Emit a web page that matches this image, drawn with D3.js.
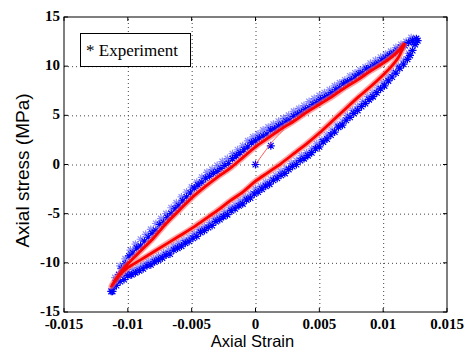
<!DOCTYPE html>
<html>
<head>
<meta charset="utf-8">
<script src="https://cdn.jsdelivr.net/npm/d3@7"></script>
<style>
  body { margin: 0; background: #fff; }
  svg { display: block; }
  .tick-label { font-family: "Liberation Serif", "Times New Roman", serif; font-weight: bold; font-size: 15px; fill: #000; }
  .axis-title { font-family: "Liberation Sans", Arial, sans-serif; font-size: 16.5px; fill: #000; }
</style>
</head>
<body>
<svg id="chart" width="469" height="355"></svg>
<script>
// axis ticks
const xTicks = [-0.015, -0.01, -0.005, 0, 0.005, 0.01, 0.015];
const xTickLabels = ['-0.015', '-0.01', '-0.005', '0', '0.005', '0.01', '0.015'];
const yTicks = [-15, -10, -5, 0, 5, 10, 15];
const yTickLabels = ['-15', '-10', '-5', '0', '5', '10', '15'];

// experiment, loading branch, first pass (strain, stress MPa)
const expUpperStrain = [-0.0113, -0.0111, -0.0109, -0.0107, -0.0105, -0.0102, -0.0099, -0.0096, -0.0093, -0.0090,
  -0.0087, -0.0084, -0.0081, -0.0078, -0.0075, -0.0072, -0.0069, -0.0066, -0.0063, -0.0060,
  -0.0057, -0.0054, -0.0051, -0.0048, -0.0045, -0.0042, -0.0039, -0.0036, -0.0033, -0.0030,
  -0.0027, -0.0024, -0.0021, -0.0018, -0.0015, -0.0012, -0.0009, -0.0006, -0.0003, 0.0000,
  0.0003, 0.0006, 0.0009, 0.0012, 0.0015, 0.0018, 0.0021, 0.0024, 0.0027, 0.0030,
  0.0033, 0.0036, 0.0039, 0.0042, 0.0045, 0.0048, 0.0051, 0.0054, 0.0057, 0.0060,
  0.0063, 0.0066, 0.0069, 0.0072, 0.0075, 0.0078, 0.0081, 0.0084, 0.0087, 0.0090,
  0.0093, 0.0096, 0.0099, 0.0102, 0.0105, 0.0108, 0.0111, 0.0114, 0.0117, 0.0120,
  0.0123, 0.0126];
const expUpperStress = [-12.9, -12.4, -11.8, -11.2, -10.6, -10.1, -9.3, -9.0, -8.5, -8.3,
  -7.8, -7.4, -7.0, -6.7, -6.1, -5.9, -5.4, -5.0, -4.5, -4.2,
  -3.7, -3.3, -2.9, -2.4, -2.1, -1.8, -1.4, -1.2, -0.9, -0.7,
  -0.4, -0.1, 0.1, 0.6, 0.9, 1.2, 1.5, 1.8, 2.2, 2.4,
  2.7, 2.9, 3.1, 3.5, 3.6, 3.9, 4.1, 4.4, 4.5, 4.9,
  5.1, 5.3, 5.6, 5.8, 6.1, 6.3, 6.6, 6.8, 7.0, 7.3,
  7.6, 7.8, 8.2, 8.4, 8.6, 8.9, 9.2, 9.3, 9.7, 9.8,
  10.1, 10.3, 10.6, 10.8, 11.1, 11.3, 11.6, 11.9, 12.1, 12.4,
  12.6, 12.8];

// experiment, unloading branch, first pass (+ start points at the end)
const expLowerStrain = [0.0127, 0.0125, 0.0123, 0.0121, 0.0119, 0.0116, 0.0113, 0.0110, 0.0107, 0.0104,
  0.0101, 0.0098, 0.0095, 0.0092, 0.0089, 0.0086, 0.0083, 0.0080, 0.0077, 0.0074,
  0.0071, 0.0068, 0.0065, 0.0062, 0.0059, 0.0056, 0.0053, 0.0050, 0.0047, 0.0044,
  0.0041, 0.0038, 0.0035, 0.0032, 0.0029, 0.0026, 0.0023, 0.0020, 0.0017, 0.0014,
  0.0011, 0.0008, 0.0005, 0.0002, -0.0001, -0.0004, -0.0007, -0.0010, -0.0013, -0.0016,
  -0.0019, -0.0022, -0.0025, -0.0028, -0.0031, -0.0034, -0.0037, -0.0040, -0.0043, -0.0046,
  -0.0049, -0.0052, -0.0055, -0.0058, -0.0061, -0.0064, -0.0067, -0.0070, -0.0073, -0.0076,
  -0.0079, -0.0082, -0.0085, -0.0088, -0.0091, -0.0094, -0.0097, -0.0100, -0.0103, -0.0106,
  -0.0109, -0.0112, 0.0000, 0.0012];
const expLowerStress = [12.6, 12.2, 11.6, 11.1, 10.7, 10.2, 9.8, 9.3, 8.9, 8.5,
  8.0, 7.7, 7.3, 6.9, 6.6, 6.2, 5.9, 5.5, 5.2, 4.8,
  4.5, 4.0, 3.8, 3.3, 3.0, 2.6, 2.3, 1.8, 1.6, 1.2,
  0.9, 0.6, 0.4, 0.0, -0.2, -0.5, -0.9, -1.1, -1.4, -1.6,
  -2.0, -2.2, -2.5, -2.8, -3.0, -3.4, -3.6, -4.0, -4.2, -4.5,
  -4.7, -5.1, -5.3, -5.6, -5.8, -6.2, -6.4, -6.7, -6.9, -7.3,
  -7.5, -7.8, -8.0, -8.3, -8.5, -8.7, -9.1, -9.2, -9.5, -9.7,
  -9.9, -10.2, -10.3, -10.6, -10.8, -11.0, -11.2, -11.3, -11.7, -11.9,
  -12.3, -12.9, 0.0, 1.9];

// experiment, later passes (lighter, fill out the bands)
const expUpper2Strain = [-0.0110, -0.0106, -0.0102, -0.0098, -0.0094, -0.0090, -0.0086, -0.0082, -0.0078, -0.0074,
  -0.0070, -0.0066, -0.0062, -0.0058, -0.0054, -0.0050, -0.0046, -0.0042, -0.0038, -0.0034,
  -0.0030, -0.0026, -0.0022, -0.0018, -0.0014, -0.0010, -0.0006, -0.0002, 0.0002, 0.0006,
  0.0010, 0.0014, 0.0018, 0.0022, 0.0026, 0.0030, 0.0034, 0.0038, 0.0042, 0.0046,
  0.0050, 0.0054, 0.0058, 0.0062, 0.0066, 0.0070, 0.0074, 0.0078, 0.0082, 0.0086,
  0.0090, 0.0094, 0.0098, 0.0102, 0.0106, 0.0110, 0.0114, 0.0118, 0.0122];
const expUpper2Stress = [-11.5, -10.3, -9.6, -8.7, -8.1, -7.6, -7.1, -6.6, -6.0, -5.5,
  -5.0, -4.4, -3.9, -3.3, -2.8, -2.3, -1.8, -1.3, -0.8, -0.5,
  -0.1, 0.3, 0.6, 1.1, 1.5, 1.9, 2.4, 2.8, 3.1, 3.5,
  3.8, 4.1, 4.4, 4.7, 5.0, 5.4, 5.7, 6.0, 6.4, 6.7,
  7.0, 7.3, 7.6, 8.0, 8.3, 8.6, 9.0, 9.3, 9.6, 9.9,
  10.3, 10.6, 10.9, 11.2, 11.5, 11.9, 12.2, 12.5, 12.9];
const expLower2Strain = [0.0124, 0.0120, 0.0116, 0.0112, 0.0108, 0.0104, 0.0100, 0.0096, 0.0092, 0.0088,
  0.0084, 0.0080, 0.0076, 0.0072, 0.0068, 0.0064, 0.0060, 0.0056, 0.0052, 0.0048,
  0.0044, 0.0040, 0.0036, 0.0032, 0.0028, 0.0024, 0.0020, 0.0016, 0.0012, 0.0008,
  0.0004, 0.0000, -0.0004, -0.0008, -0.0012, -0.0016, -0.0020, -0.0024, -0.0028, -0.0032,
  -0.0036, -0.0040, -0.0044, -0.0048, -0.0052, -0.0056, -0.0060, -0.0064, -0.0068, -0.0072,
  -0.0076, -0.0080, -0.0084, -0.0088, -0.0092, -0.0096, -0.0100, -0.0104, -0.0108];
const expLower2Stress = [12.3, 11.3, 10.6, 10.0, 9.4, 8.9, 8.3, 7.8, 7.3, 6.9,
  6.4, 5.9, 5.5, 5.0, 4.4, 4.0, 3.5, 3.0, 2.5, 2.1,
  1.6, 1.2, 0.9, 0.4, 0.1, -0.4, -0.7, -1.1, -1.5, -1.8,
  -2.2, -2.5, -3.0, -3.3, -3.7, -4.1, -4.4, -4.8, -5.2, -5.5,
  -5.9, -6.3, -6.6, -7.0, -7.4, -7.7, -8.0, -8.3, -8.7, -9.0,
  -9.3, -9.6, -9.9, -10.2, -10.5, -10.7, -10.9, -11.2, -11.7];

// model: initial loading, then the closed loop
const modelStartStrain = [0.0000, 0.0014, 0.0022];
const modelStartStress = [0.0, 2.45, 3.5];
const modelStrain = [0.0117, 0.0112, 0.0106, 0.0100, 0.0090, 0.0080, 0.0070, 0.0060, 0.0050, 0.0040,
  0.0030, 0.0020, 0.0010, 0.0000, -0.0010, -0.0020, -0.0030, -0.0040, -0.0050, -0.0060,
  -0.0070, -0.0080, -0.0090, -0.0100, -0.0106, -0.0113,
  -0.0108, -0.0104, -0.0100, -0.0090, -0.0080, -0.0070, -0.0060, -0.0050, -0.0040, -0.0030,
  -0.0020, -0.0010, 0.0000, 0.0010, 0.0020, 0.0030, 0.0040, 0.0050, 0.0060, 0.0070,
  0.0080, 0.0090, 0.0100, 0.0110, 0.0117];
const modelStress = [12.35, 10.9, 9.9, 9.1, 7.9, 6.8, 5.6, 4.4, 3.2, 2.1,
  1.1, 0.1, -0.8, -1.7, -2.8, -3.7, -4.7, -5.6, -6.5, -7.3,
  -8.1, -8.9, -9.7, -10.5, -11.2, -12.4,
  -11.4, -10.7, -10.1, -8.8, -7.5, -6.0, -4.7, -3.4, -2.3, -1.3,
  -0.4, 0.7, 1.8, 2.7, 3.6, 4.4, 5.3, 6.1, 6.9, 7.8,
  8.6, 9.5, 10.3, 11.3, 12.35];

const legendText = '* Experiment';

const margin = {left: 64, top: 17, right: 22, bottom: 43};
const width = 469, height = 355;
const svg = d3.select('#chart');

const x = d3.scaleLinear().domain([-0.015, 0.015]).range([margin.left, width - margin.right]);
const y = d3.scaleLinear().domain([-15, 15]).range([height - margin.bottom, margin.top]);

const plotW = x.range()[1] - x.range()[0];
const plotH = y.range()[0] - y.range()[1];

// dotted grid
svg.append('g')
  .attr('transform', 'translate(0,' + y(-15) + ')')
  .call(d3.axisBottom(x).tickValues(xTicks.slice(1, -1)).tickSize(-plotH).tickFormat(''))
  .call(g => g.select('.domain').remove())
  .selectAll('line').attr('stroke', '#444').attr('stroke-dasharray', '1,3');
svg.append('g')
  .attr('transform', 'translate(' + x(-0.015) + ',0)')
  .call(d3.axisLeft(y).tickValues(yTicks.slice(1, -1)).tickSize(-plotW).tickFormat(''))
  .call(g => g.select('.domain').remove())
  .selectAll('line').attr('stroke', '#444').attr('stroke-dasharray', '1,3');

// asterisk marker (plus + cross)
const r = 4, rd = r * 0.72;
const star = 'M' + (-r) + ',0H' + r + 'M0,' + (-r) + 'V' + r +
  'M' + (-rd) + ',' + (-rd) + 'L' + rd + ',' + rd + 'M' + (-rd) + ',' + rd + 'L' + rd + ',' + (-rd);

function drawStars(strain, stress, color, opacity) {
  svg.append('g')
    .selectAll('path')
    .data(strain.map((s, i) => [s, stress[i]]))
    .join('path')
    .attr('transform', d => 'translate(' + x(d[0]) + ',' + y(d[1]) + ')')
    .attr('d', star)
    .attr('fill', 'none')
    .attr('stroke', color)
    .attr('stroke-opacity', opacity)
    .attr('stroke-width', 1.2);
}

drawStars(expUpper2Strain, expUpper2Stress, '#0000ff', 0.45);
drawStars(expLower2Strain, expLower2Stress, '#0000ff', 0.45);
drawStars(expUpperStrain, expUpperStress, '#0000ff', 1);
drawStars(expLowerStrain, expLowerStress, '#0000ff', 1);

// model curve
const line = d3.line().x(d => x(d[0])).y(d => y(d[1])).curve(d3.curveCatmullRom);
const loopPts = modelStrain.map((s, i) => [s, modelStress[i]]);
const startPts = modelStartStrain.map((s, i) => [s, modelStartStress[i]]);
svg.append('path')
  .attr('d', line(loopPts))
  .attr('fill', 'none')
  .attr('stroke', '#ff6a6a')
  .attr('stroke-opacity', 0.6)
  .attr('stroke-width', 6);
svg.append('path')
  .attr('d', line(loopPts))
  .attr('fill', 'none')
  .attr('stroke', '#ff0000')
  .attr('stroke-width', 2.8);
svg.append('path')
  .attr('d', line(startPts))
  .attr('fill', 'none')
  .attr('stroke', '#ff4040')
  .attr('stroke-width', 0.9);

// frame
svg.append('rect')
  .attr('x', x(-0.015)).attr('y', y(15))
  .attr('width', plotW).attr('height', plotH)
  .attr('fill', 'none').attr('stroke', '#000').attr('stroke-width', 1);

// inward ticks on all four sides
const tk = 4;
const tickG = svg.append('g').attr('stroke', '#000');
xTicks.forEach(v => {
  tickG.append('line').attr('x1', x(v)).attr('x2', x(v)).attr('y1', y(-15)).attr('y2', y(-15) - tk);
  tickG.append('line').attr('x1', x(v)).attr('x2', x(v)).attr('y1', y(15)).attr('y2', y(15) + tk);
});
yTicks.forEach(v => {
  tickG.append('line').attr('y1', y(v)).attr('y2', y(v)).attr('x1', x(-0.015)).attr('x2', x(-0.015) + tk);
  tickG.append('line').attr('y1', y(v)).attr('y2', y(v)).attr('x1', x(0.015)).attr('x2', x(0.015) - tk);
});

// tick labels
svg.append('g').selectAll('text')
  .data(xTicks)
  .join('text')
  .attr('class', 'tick-label')
  .attr('x', d => x(d))
  .attr('y', y(-15) + 17)
  .attr('text-anchor', 'middle')
  .text((d, i) => xTickLabels[i]);
svg.append('g').selectAll('text')
  .data(yTicks)
  .join('text')
  .attr('class', 'tick-label')
  .attr('x', x(-0.015) - 4)
  .attr('y', d => y(d) + 4)
  .attr('text-anchor', 'end')
  .text((d, i) => yTickLabels[i]);

// axis titles
svg.append('text')
  .attr('class', 'axis-title')
  .attr('x', x(0) - 3)
  .attr('y', 347)
  .attr('text-anchor', 'middle')
  .text('Axial Strain');
svg.append('text')
  .attr('class', 'axis-title')
  .attr('transform', 'translate(29,' + (y(0) + 6) + ') rotate(-90)')
  .attr('text-anchor', 'middle')
  .style('font-size', '19px')
  .text('Axial stress (MPa)');

// legend box
svg.append('rect')
  .attr('x', 80.5).attr('y', 33.5).attr('width', 110).attr('height', 33)
  .attr('fill', '#fff').attr('stroke', '#000');
svg.append('text')
  .attr('x', 86)
  .attr('y', 56)
  .style('font-family', '"Liberation Serif", "Times New Roman", serif')
  .style('font-size', '17px')
  .text(legendText);
</script>
</body>
</html>
